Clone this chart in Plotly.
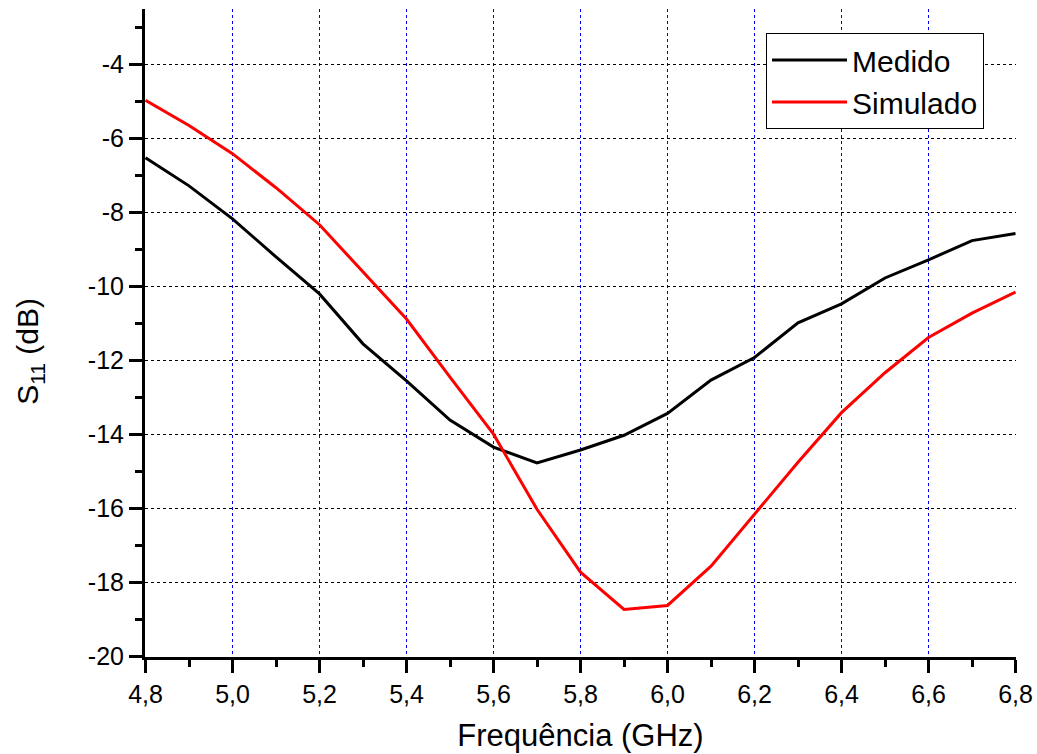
import plotly.graph_objects as go

freq = [4.8, 4.9, 5.0, 5.1, 5.2, 5.3, 5.4, 5.5, 5.6, 5.7, 5.8,
        5.9, 6.0, 6.1, 6.2, 6.3, 6.4, 6.5, 6.6, 6.7, 6.8]
medido = [-6.52, -7.28, -8.17, -9.20, -10.20, -11.55, -12.55, -13.61, -14.34, -14.77, -14.42,
          -14.02, -13.43, -12.53, -11.92, -10.98, -10.47, -9.77, -9.28, -8.76, -8.57]
simulado = [-4.97, -5.65, -6.41, -7.33, -8.33, -9.60, -10.88, -12.45, -13.99, -16.02, -17.72,
            -18.73, -18.62, -17.56, -16.15, -14.75, -13.41, -12.33, -11.38, -10.72, -10.15]

x_ticks = [4.8, 5.0, 5.2, 5.4, 5.6, 5.8, 6.0, 6.2, 6.4, 6.6, 6.8]
x_labels = ["4,8", "5,0", "5,2", "5,4", "5,6", "5,8", "6,0", "6,2", "6,4", "6,6", "6,8"]
y_ticks = [-20, -18, -16, -14, -12, -10, -8, -6, -4]
y_labels = ["-20", "-18", "-16", "-14", "-12", "-10", "-8", "-6", "-4"]

FONT = "Liberation Sans, Arial, sans-serif"

# plot area geometry chosen so grid lines fall on half-pixels (crisp dotted lines)
L, T, W, H = 145, 9, 871, 648
PX_X = 435.0   # px per GHz
PX_Y = 37.0    # px per dB
x0 = 4.8 - 0.5 / PX_X
x1 = x0 + W / PX_X
y1 = -2.5
y0 = y1 - H / PX_Y

fig = go.Figure()
fig.add_trace(go.Scatter(x=freq, y=medido, mode="lines", name="Medido",
                         line=dict(color="black", width=3)))
fig.add_trace(go.Scatter(x=freq, y=simulado, mode="lines", name="Simulado",
                         line=dict(color="red", width=3)))

fig.update_layout(
    width=1037, height=754,
    margin=dict(l=L, r=1037 - L - W, t=T, b=754 - T - H),
    paper_bgcolor="white", plot_bgcolor="white",
    font=dict(family=FONT, color="black", size=24),
    showlegend=True,
    legend=dict(x=0.713, y=0.963, xanchor="left", yanchor="top",
                bgcolor="white", bordercolor="black", borderwidth=1,
                font=dict(size=30, family=FONT), itemwidth=75,
                tracegroupgap=0),
    xaxis=dict(range=[x0, x1], tickvals=x_ticks, ticktext=x_labels,
               automargin=False,
               showline=True, linecolor="black", linewidth=3,
               ticks="outside", ticklen=13, tickwidth=3, tickcolor="black",
               showgrid=True, gridcolor="#0000ff", gridwidth=1, griddash="dot",
               zeroline=False,
               minor=dict(dtick=0.1, tick0=4.8, ticks="outside", ticklen=7,
                          tickwidth=3, tickcolor="black", showgrid=False),
               title=dict(text="Frequência (GHz)", font=dict(size=31, family=FONT),
                          standoff=18),
               tickfont=dict(size=25, family=FONT)),
    yaxis=dict(range=[y0, y1], tickvals=y_ticks, ticktext=y_labels,
               automargin=False,
               showline=True, linecolor="black", linewidth=3,
               ticks="outside", ticklen=13, tickwidth=3, tickcolor="black",
               showgrid=True, gridcolor="black", gridwidth=1, griddash="dot",
               zeroline=False,
               minor=dict(dtick=1, tick0=-20, ticks="outside", ticklen=7,
                          tickwidth=3, tickcolor="black", showgrid=False),
               tickfont=dict(size=25, family=FONT)),
    annotations=[dict(text="S<sub>11</sub> (dB)", textangle=-90,
                      xref="paper", yref="paper", x=-0.132, y=0.471,
                      xanchor="center", yanchor="middle", showarrow=False,
                      font=dict(size=30, family=FONT, color="black"))],
)

fig.write_html("out.html")
